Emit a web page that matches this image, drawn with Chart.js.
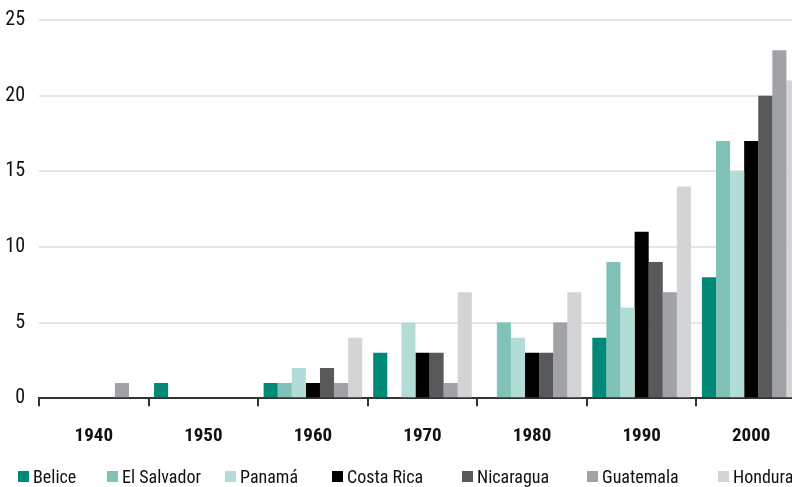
<!DOCTYPE html>
<html>
<head>
<meta charset="utf-8">
<script src="https://cdn.jsdelivr.net/npm/chart.js@4"></script>
<style>
  html, body { margin: 0; padding: 0; background: #fff; overflow: hidden; }
  #wrap { position: relative; width: 806px; height: 487px; }
  #legend {
    position: absolute; left: 18px; top: 466px;
    display: grid;
    grid-template-columns: 89px 118px 107px 130px 125px 131px auto;
    font-family: Roboto, 'Liberation Sans', sans-serif;
    font-stretch: condensed;
    font-size: 18px; color: #111; white-space: nowrap;
  }
  #legend span.item { display: flex; align-items: center; }
  #legend i { display: inline-block; width: 11px; height: 11px; margin-right: 4px; }
</style>
</head>
<body>
<div id="wrap"><canvas id="decadeBarChart"></canvas><div id="legend"></div></div>
<script>
var decades = ['1940', '1950', '1960', '1970', '1980', '1990', '2000']

var belice = [0, 1, 1, 3, 0, 4, 8]
var elSalvador = [0, 0, 1, 0, 5, 9, 17]
var panama = [0, 0, 2, 5, 4, 6, 15]
var costaRica = [0, 0, 1, 3, 3, 11, 17]
var nicaragua = [0, 0, 2, 3, 3, 9, 20]
var guatemala = [1, 0, 1, 1, 5, 7, 23]
var honduras = [0, 0, 4, 7, 7, 14, 21]

var yTicks = [0, 5, 10, 15, 20, 25]

var fam = "Roboto, 'Liberation Sans', sans-serif"

var ctx = document.getElementById('decadeBarChart').getContext('2d')

var chart = new Chart(ctx, {
  type: 'bar',
  data: {
    labels: decades,
    datasets: [
      { label: 'Belice', data: belice, backgroundColor: '#008977' },
      { label: 'El Salvador', data: elSalvador, backgroundColor: '#80c2b8' },
      { label: 'Panamá', data: panama, backgroundColor: '#b2ddd7' },
      { label: 'Costa Rica', data: costaRica, backgroundColor: '#000000' },
      { label: 'Nicaragua', data: nicaragua, backgroundColor: '#58595b' },
      { label: 'Guatemala', data: guatemala, backgroundColor: '#a1a2a5' },
      { label: 'Honduras', data: honduras, backgroundColor: '#d3d4d6' }
    ]
  },
  options: {
    responsive: true,
    maintainAspectRatio: false,
    animation: false,
    layout: { padding: { top: 0, left: 0, right: 0, bottom: 20 } },
    datasets: {
      bar: { barPercentage: 1, categoryPercentage: 0.9, borderWidth: 0 }
    },
    plugins: {
      tooltip: { enabled: false },
      legend: { display: false }
    },
    scales: {
      x: {
        grid: {
          display: true,
          offset: true,
          drawOnChartArea: false,
          tickLength: 8,
          color: '#333',
          lineWidth: 2
        },
        border: { display: true, color: '#333', width: 2 },
        ticks: {
          padding: 19,
          color: '#111',
          font: { family: fam, size: 19, weight: 'condensed bold' }
        }
      },
      y: {
        min: 0,
        max: 25,
        afterBuildTicks: function (axis) {
          axis.ticks = yTicks.map(function (v) { return { value: v } })
        },
        afterFit: function (axis) { axis.width = 39 },
        grid: {
          drawTicks: false,
          color: function (c) { return c.tick.value === 0 ? 'rgba(0,0,0,0)' : '#e6e6e6' },
          lineWidth: 2
        },
        border: { display: false },
        ticks: {
          padding: 14,
          color: '#111',
          font: { family: fam, size: 20, weight: 'condensed normal', lineHeight: 0.6 }
        }
      }
    }
  }
})

// legend built from the datasets
var legendEl = document.getElementById('legend')
chart.data.datasets.forEach(function (ds) {
  var item = document.createElement('span')
  item.className = 'item'
  var sw = document.createElement('i')
  sw.style.background = ds.backgroundColor
  item.appendChild(sw)
  item.appendChild(document.createTextNode(ds.label))
  legendEl.appendChild(item)
})
</script>
</body>
</html>
